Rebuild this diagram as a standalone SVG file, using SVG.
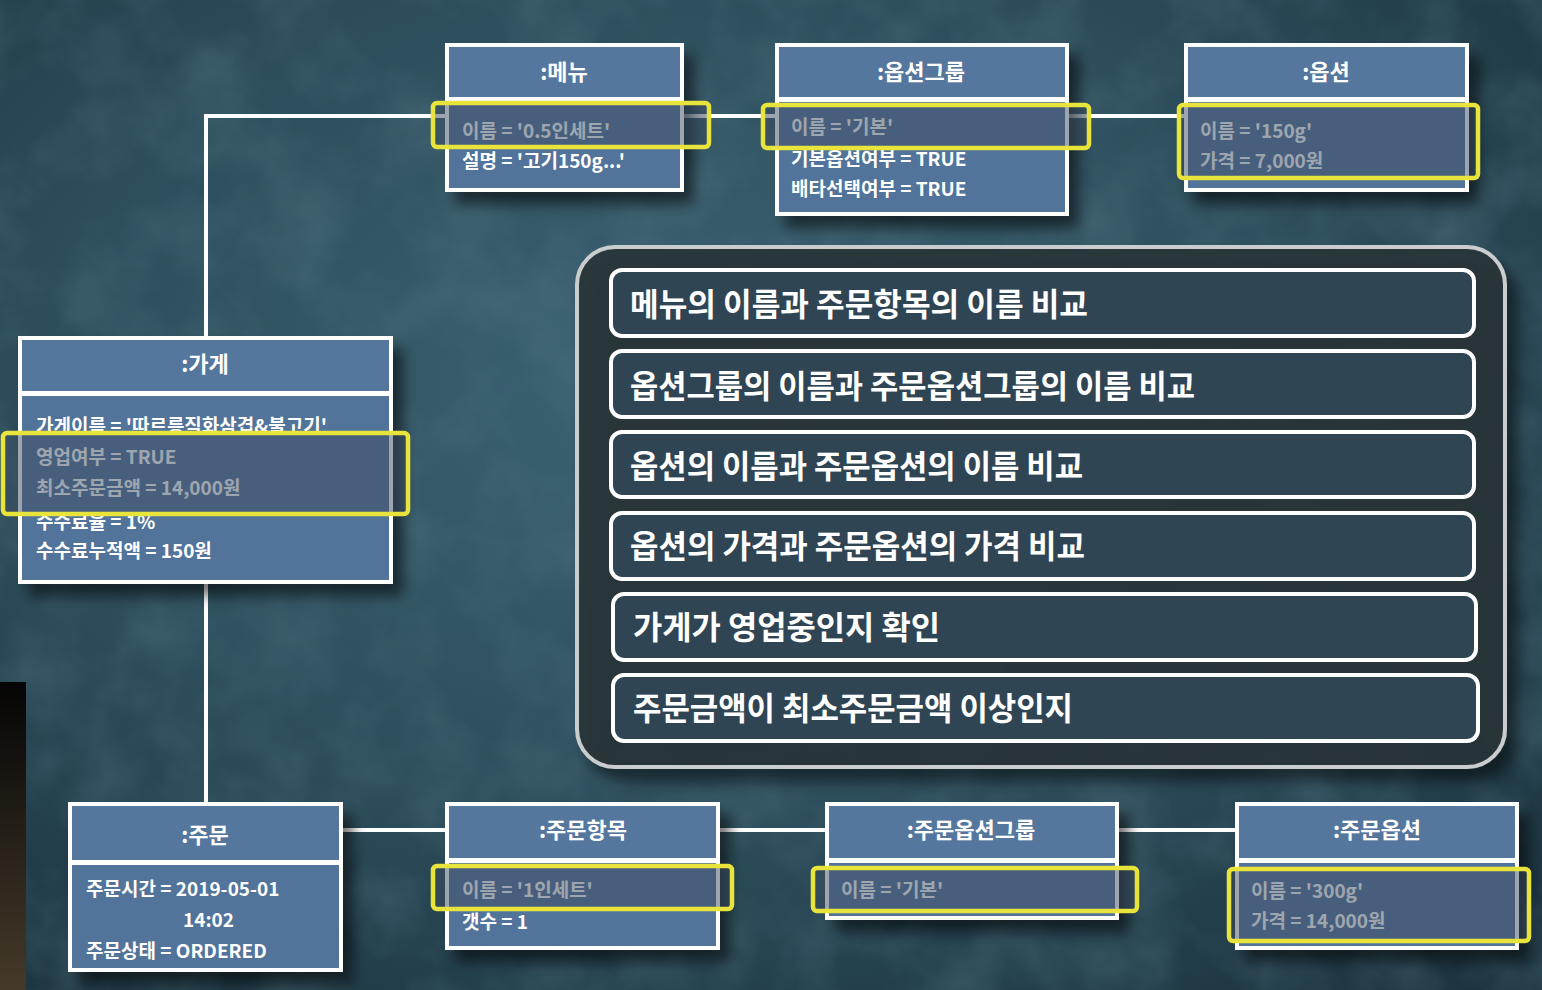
<svg xmlns="http://www.w3.org/2000/svg" width="1542" height="990" viewBox="0 0 1542 990">
<defs>
<radialGradient id="bg" cx="0.45" cy="0.4" r="0.75">
<stop offset="0" stop-color="#3c6373"/>
<stop offset="0.6" stop-color="#2c4c5a"/>
<stop offset="1" stop-color="#1c3440"/>
</radialGradient>
<linearGradient id="strip" x1="0" y1="0" x2="0" y2="1">
<stop offset="0" stop-color="#050505"/>
<stop offset="1" stop-color="#453a2a"/>
</linearGradient>
<filter id="tex" x="0" y="0" width="100%" height="100%">
<feTurbulence type="fractalNoise" baseFrequency="0.012" numOctaves="4" seed="3"/>
<feColorMatrix type="matrix" values="0 0 0 0 0.1  0 0 0 0 0.2  0 0 0 0 0.25  0 0 0 -1.2 0.75"/>
</filter>
<filter id="sh" x="-10%" y="-10%" width="130%" height="140%">
<feDropShadow dx="10" dy="12" stdDeviation="7" flood-color="#000" flood-opacity="0.55"/>
</filter>
<style>
.ow{fill:#ffffff}
.hd{fill:#56779d}
.bd{fill:#52739a}
.tt{font-family:"Noto Sans CJK KR","Noto Sans",sans-serif;font-weight:700;font-size:22px;fill:#ffffff;text-anchor:middle}
.tx{font-family:"Noto Sans CJK KR","Noto Sans",sans-serif;font-weight:700;font-size:19px;fill:#ffffff}
.hl{fill:#3c4b5f;fill-opacity:0.5;stroke:#e8e43c;stroke-width:4.5}
.cn{fill:none;stroke:#ffffff;stroke-width:4}
.pn{fill:#2a3336;fill-opacity:0.9;stroke:#c9cdcd;stroke-width:4}
.it{fill:#2f4554;stroke:#ffffff;stroke-width:4}
.pt{font-family:"Noto Sans CJK KR","Noto Sans",sans-serif;font-weight:700;font-size:32px;fill:#ffffff}
</style>
</defs>
<rect width="1542" height="990" fill="url(#bg)"/>
<rect width="1542" height="990" filter="url(#tex)" opacity="0.6"/>
<rect x="0" y="682" width="26" height="308" fill="url(#strip)"/>

<g id="connectors">
<path class="cn" d="M206,336 V116 H447"/>
<path class="cn" d="M682,116 H777"/>
<path class="cn" d="M1067,116 H1186"/>
<path class="cn" d="M206,582 V804"/>
<path class="cn" d="M341,830 H447"/>
<path class="cn" d="M718,830 H827"/>
<path class="cn" d="M1117,830 H1237"/>
</g>

<g id="menu">
<rect class="ow" x="445" y="43" width="239" height="149" filter="url(#sh)"/>
<rect class="hd" x="449" y="47" width="231" height="50"/>
<rect class="bd" x="449" y="102" width="231" height="86"/>
<text class="tt" x="564" y="80">:메뉴</text>
<text class="tx" x="462" y="138">이름 = '0.5인세트'</text>
<text class="tx" x="462" y="168">설명 = '고기150g...'</text>
<rect class="hl" x="433" y="103" width="276" height="44" rx="4"/>
</g>

<g id="optiongroup">
<rect class="ow" x="775" y="43" width="294" height="173" filter="url(#sh)"/>
<rect class="hd" x="779" y="47" width="286" height="50"/>
<rect class="bd" x="779" y="102" width="286" height="110"/>
<text class="tt" x="921" y="80">:옵션그룹</text>
<text class="tx" x="791" y="134">이름 = '기본'</text>
<text class="tx" x="791" y="166">기본옵션여부 = TRUE</text>
<text class="tx" x="791" y="196">배타선택여부 = TRUE</text>
<rect class="hl" x="763" y="105" width="326" height="43" rx="4"/>
</g>

<g id="option">
<rect class="ow" x="1184" y="43" width="285" height="149" filter="url(#sh)"/>
<rect class="hd" x="1188" y="47" width="277" height="50"/>
<rect class="bd" x="1188" y="102" width="277" height="86"/>
<text class="tt" x="1326" y="80">:옵션</text>
<text class="tx" x="1200" y="138">이름 = '150g'</text>
<text class="tx" x="1200" y="168">가격 = 7,000원</text>
<rect class="hl" x="1179" y="105" width="299" height="73" rx="4"/>
</g>

<g id="store">
<rect class="ow" x="18" y="336" width="375" height="248" filter="url(#sh)"/>
<rect class="hd" x="22" y="340" width="367" height="51"/>
<rect class="bd" x="22" y="396" width="367" height="184"/>
<text class="tt" x="205" y="372">:가게</text>
<text class="tx" x="36" y="433">가게이름 = '따르릉직화삼겹&amp;불고기'</text>
<text class="tx" x="36" y="464">영업여부 = TRUE</text>
<text class="tx" x="36" y="495">최소주문금액 = 14,000원</text>
<text class="tx" x="36" y="529">수수료율 = 1%</text>
<text class="tx" x="36" y="558">수수료누적액 = 150원</text>
<rect class="hl" x="3" y="433" width="405" height="81" rx="4"/>
</g>

<g id="order">
<rect class="ow" x="68" y="802" width="275" height="170" filter="url(#sh)"/>
<rect class="hd" x="72" y="806" width="267" height="54"/>
<rect class="bd" x="72" y="865" width="267" height="103"/>
<text class="tt" x="205" y="843">:주문</text>
<text class="tx" x="86" y="896">주문시간 = 2019-05-01</text>
<text class="tx" x="183" y="927">14:02</text>
<text class="tx" x="86" y="958">주문상태 = ORDERED</text>
</g>

<g id="orderitem">
<rect class="ow" x="445" y="802" width="275" height="148" filter="url(#sh)"/>
<rect class="hd" x="449" y="806" width="267" height="52"/>
<rect class="bd" x="449" y="863" width="267" height="83"/>
<text class="tt" x="583" y="838">:주문항목</text>
<text class="tx" x="462" y="897">이름 = '1인세트'</text>
<text class="tx" x="462" y="929">갯수 = 1</text>
<rect class="hl" x="433" y="866" width="299" height="43" rx="4"/>
</g>

<g id="orderoptiongroup">
<rect class="ow" x="825" y="802" width="294" height="118" filter="url(#sh)"/>
<rect class="hd" x="829" y="806" width="286" height="52"/>
<rect class="bd" x="829" y="863" width="286" height="53"/>
<text class="tt" x="971" y="838">:주문옵션그룹</text>
<text class="tx" x="841" y="897">이름 = '기본'</text>
<rect class="hl" x="813" y="868" width="324" height="43" rx="4"/>
</g>

<g id="orderoption">
<rect class="ow" x="1235" y="802" width="284" height="148" filter="url(#sh)"/>
<rect class="hd" x="1239" y="806" width="276" height="52"/>
<rect class="bd" x="1239" y="863" width="276" height="83"/>
<text class="tt" x="1377" y="838">:주문옵션</text>
<text class="tx" x="1251" y="898">이름 = '300g'</text>
<text class="tx" x="1251" y="928">가격 = 14,000원</text>
<rect class="hl" x="1229" y="869" width="300" height="72" rx="4"/>
</g>

<g id="checklist">
<rect class="pn" x="577" y="247" width="928" height="520" rx="38" filter="url(#sh)"/>
<g id="check1">
<rect class="it" x="611" y="270" width="863" height="66" rx="11"/>
<text class="pt" x="630" y="316" textLength="458" lengthAdjust="spacingAndGlyphs">메뉴의 이름과 주문항목의 이름 비교</text>
</g>
<g id="check2">
<rect class="it" x="611" y="351" width="863" height="66" rx="11"/>
<text class="pt" x="630" y="398" textLength="565" lengthAdjust="spacingAndGlyphs">옵션그룹의 이름과 주문옵션그룹의 이름 비교</text>
</g>
<g id="check3">
<rect class="it" x="611" y="432" width="863" height="65" rx="11"/>
<text class="pt" x="630" y="478" textLength="453" lengthAdjust="spacingAndGlyphs">옵션의 이름과 주문옵션의 이름 비교</text>
</g>
<g id="check4">
<rect class="it" x="611" y="513" width="863" height="66" rx="11"/>
<text class="pt" x="630" y="558" textLength="455" lengthAdjust="spacingAndGlyphs">옵션의 가격과 주문옵션의 가격 비교</text>
</g>
<g id="check5">
<rect class="it" x="613" y="594" width="863" height="66" rx="11"/>
<text class="pt" x="633" y="639" textLength="307" lengthAdjust="spacingAndGlyphs">가게가 영업중인지 확인</text>
</g>
<g id="check6">
<rect class="it" x="613" y="675" width="865" height="66" rx="11"/>
<text class="pt" x="633" y="720" textLength="440" lengthAdjust="spacingAndGlyphs">주문금액이 최소주문금액 이상인지</text>
</g>
</g>
</svg>
